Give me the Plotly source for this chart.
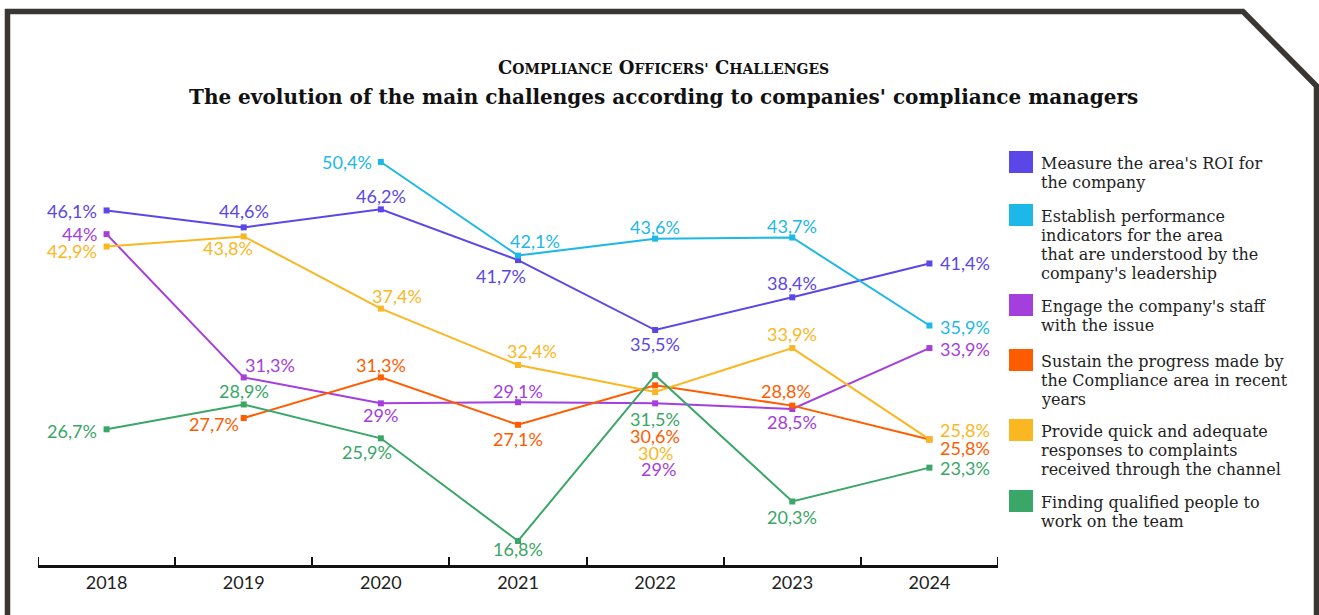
import plotly.graph_objects as go

# chart data
years = ['2018', '2019', '2020', '2021', '2022', '2023', '2024']

series_names = [
    "Measure the area's ROI for<br>the company",
    "Establish performance<br>indicators for the area<br>that are understood by the<br>company's leadership",
    "Engage the company's staff<br>with the issue",
    "Sustain the progress made by<br>the Compliance area in recent<br>years",
    "Provide quick and adequate<br>responses to complaints<br>received through the channel",
    "Finding qualified people to<br>work on the team",
]

roi = [46.1, 44.6, 46.2, 41.7, 35.5, 38.4, 41.4]
indicators = [None, None, 50.4, 42.1, 43.6, 43.7, 35.9]
engage = [44, 31.3, 29, 29.1, 29, 28.5, 33.9]
sustain = [None, 27.7, 31.3, 27.1, 30.6, 28.8, 25.8]
responses = [42.9, 43.8, 37.4, 32.4, 30, 33.9, 25.8]
qualified = [26.7, 28.9, 25.9, 16.8, 31.5, 20.3, 23.3]

all_values = [roi, indicators, engage, sustain, responses, qualified]
colors = ['#5b46e8', '#1bb8e8', '#a43edc', '#ff5c00', '#fbb722', '#3aa667']

# label offsets in pixels (dx, dy up) for each point
label_offsets = [
    [(-35, -1), (0, 16), (0, 13), (-17, -16), (0, -14), (0, 14), (36, 0)],
    [None, None, (-34, 0), (17, 15), (0, 12), (0, 12), (36, -1)],
    [(-27, 0), (26, 12), (0, -12), (0, 11), (3, -66), (0, -13), (36, -1)],
    [None, (-30, -6), (0, 12), (0, -14), (0, -51), (-6, 15), (36, -9)],
    [(-35, -4), (-16, -12), (16, 13), (14, 14), (0, -61), (0, 14), (36, 9)],
    [(-35, -2), (0, 13), (-14, -14), (0, -8), (0, -44), (0, -16), (36, 0)],
]

# plot area in pixels
L, R, T, B = 38, 998, 150, 565
W, H = 1319, 615


def px(x):
    return (x - L) / (R - L)


def py(y):
    return (B - y) / (B - T)


def fmt(v):
    return f"{v:g}".replace('.', ',') + '%'


fig = go.Figure()
annotations = []

for name, vals, col, offs in zip(series_names, all_values, colors, label_offsets):
    fig.add_trace(go.Scatter(
        x=years, y=vals, mode='lines+markers', name=name,
        line=dict(color=col, width=2),
        marker=dict(symbol='square', size=6, color=col),
        showlegend=False, hoverinfo='skip'
    ))
    for i, (v, o) in enumerate(zip(vals, offs)):
        if v is None:
            continue
        annotations.append(dict(
            x=i, y=v, xref='x', yref='y', text=fmt(v), showarrow=False,
            xshift=o[0], yshift=o[1], xanchor='center', yanchor='middle',
            font=dict(family='Lato', size=18, color=col)
        ))

# legend drawn by hand: square swatches + wrapped text, 19px line pitch
shapes = []
swatch_tops = [151, 204, 294, 349, 419, 490]
for name, col, top in zip(series_names, colors, swatch_tops):
    shapes.append(dict(
        type='rect', xref='paper', yref='paper',
        x0=px(1009), x1=px(1033), y0=py(top + 22), y1=py(top),
        fillcolor=col, line=dict(width=0)
    ))
    for k, line in enumerate(name.split('<br>')):
        annotations.append(dict(
            x=px(1039), y=py(top + 12 + 19 * k), xref='paper', yref='paper', text=line,
            showarrow=False, xanchor='left', yanchor='middle', align='left',
            font=dict(family='DejaVu Serif', size=16, color='#222222')
        ))

# titles
small = "<span style='font-size:14px'>"
annotations.append(dict(
    x=px(663), y=py(67), xref='paper', yref='paper', showarrow=False,
    text=("<b>C" + small + "OMPLIANCE</span> O" + small + "FFICERS'</span> C"
          + small + "HALLENGES</span></b>"),
    xanchor='center', yanchor='middle',
    font=dict(family='DejaVu Serif', size=18, color='#111111')
))
annotations.append(dict(
    x=px(663), y=py(97), xref='paper', yref='paper', showarrow=False,
    text="<b>The evolution of the main challenges according to companies' compliance managers</b>",
    xanchor='center', yanchor='middle',
    font=dict(family='DejaVu Serif', size=20, color='#111111')
))

# end ticks of the axis
for xe in (-0.5, 6.5):
    shapes.append(dict(type='line', xref='x', yref='paper', x0=xe, x1=xe,
                       y0=0, y1=8 / (B - T), line=dict(color='#111111', width=2)))

# outer frame with cut corner
frame = (f"M {px(7.5)},{py(640)} L {px(7.5)},{py(11.5)} L {px(1243)},{py(11.5)} "
         f"L {px(1316.5)},{py(86)} L {px(1316.5)},{py(640)}")
shapes.append(dict(type='path', xref='paper', yref='paper', path=frame,
                   line=dict(color='#3a3633', width=5.5)))

fig.update_layout(
    width=W, height=H,
    margin=dict(l=L, r=W - R, t=T, b=H - B),
    paper_bgcolor='white', plot_bgcolor='white',
    annotations=annotations, shapes=shapes,
    xaxis=dict(
        type='category', range=[-0.5, 6.5], showgrid=False, zeroline=False,
        showline=True, linecolor='#111111', linewidth=2.5,
        ticks='inside', tickson='boundaries', ticklen=8, tickwidth=2, tickcolor='#111111',
        tickfont=dict(family='Lato', size=18, color='#222222'), fixedrange=True
    ),
    yaxis=dict(range=[14.67, 51.46], showgrid=False, zeroline=False, showline=False,
               showticklabels=False, ticks='', fixedrange=True),
)

fig.write_html("out.html", config={'displayModeBar': False},
               post_script="document.body.style.margin='0';document.body.style.overflow='hidden';")
